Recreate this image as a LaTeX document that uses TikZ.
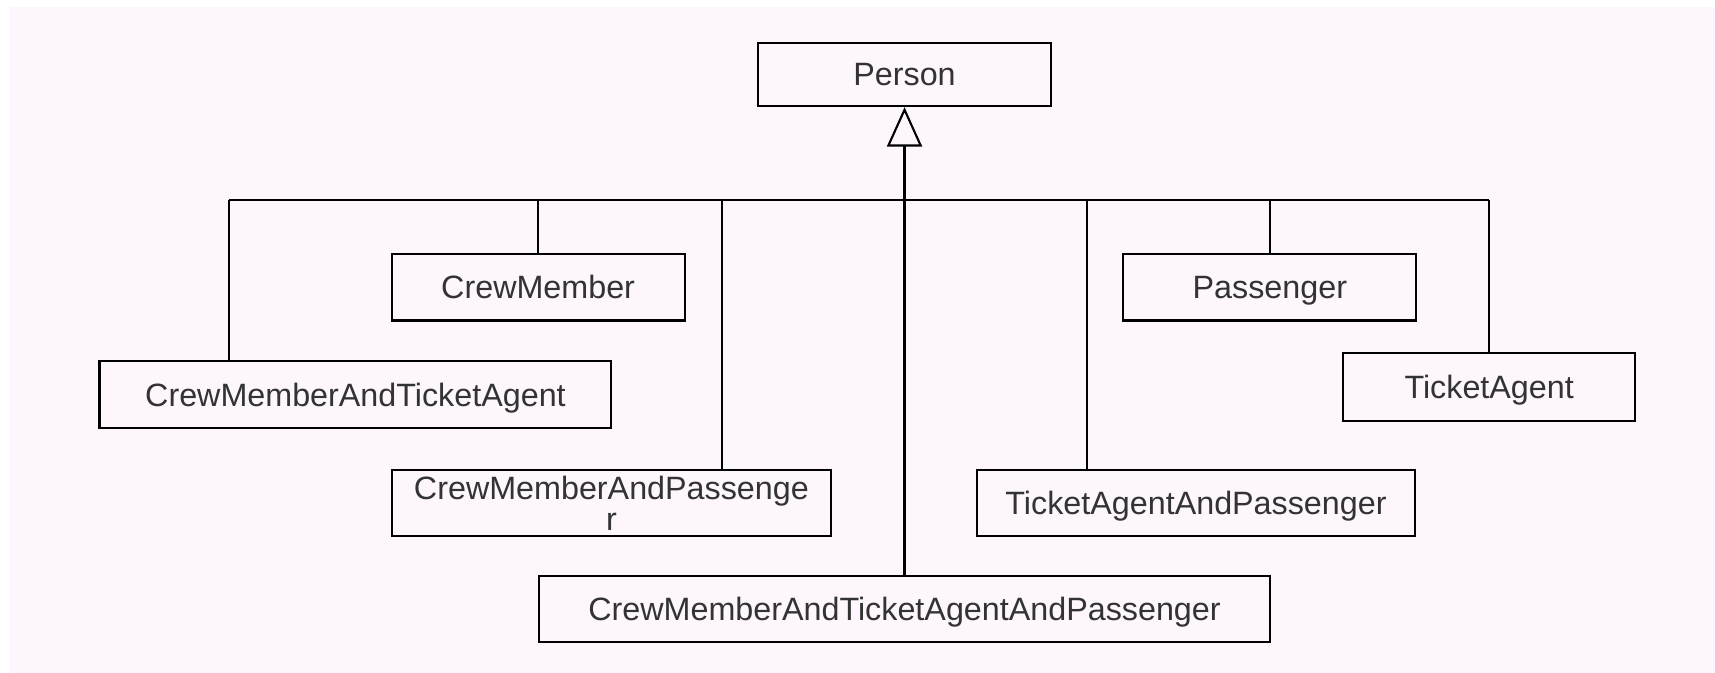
\documentclass[tikz,border=0pt]{standalone}
\usepackage{fontspec}
\setmainfont{Liberation Sans}
\usetikzlibrary{arrows.meta}
\definecolor{canvas}{RGB}{253,247,253}

\begin{document}
\begin{tikzpicture}[x=0.2mm, y=-0.2mm, line width=1.1pt]

    \useasboundingbox (0,0) rectangle (1568,615);
    \fill[canvas] (9,6) rectangle (1568,615);

    \begin{scope}[every node/.style={draw,rectangle,inner sep=0pt,align=center,text=black!80,text depth=0pt,
                  font=\fontsize{16.8}{16}\selectfont,minimum height=12.2mm}]
        \node[minimum width=53.6mm, minimum height=11.6mm] (1) at (827,68) {Person};
        \node[minimum width=53.6mm] (2) at (492,262.5) {CrewMember};
        \node[minimum width=53.6mm] (3) at (1161,262.5) {Passenger};
        \node[minimum width=93.6mm] (4) at (325,360.5) {CrewMemberAndTicketAgent};
        \node[minimum width=53.4mm, minimum height=12.4mm] (5) at (1361.5,354) {TicketAgent};
        \node[minimum width=80.4mm, minimum height=12mm] (6) at (559,460) {CrewMemberAndPassenge\\r};
        \node[minimum width=80.2mm, minimum height=12mm] (7) at (1093.5,460) {TicketAgentAndPassenger};
        \node[minimum width=133.8mm, minimum height=12mm] (8) at (827,557) {CrewMemberAndTicketAgentAndPassenger};
    \end{scope}

    % the bus under Person
    \coordinate (b1) at (209,183);
    \coordinate (b2) at (492,183);
    \coordinate (b3) at (660,183);
    \coordinate (b4) at (994,183);
    \coordinate (b5) at (1161,183);
    \coordinate (b6) at (1361,183);

    \draw (b1) -- (b6);
    \draw (b1) -- (4.north -| b1);
    \draw (b2) -- (2.north);
    \draw (b3) -- (6.north -| b3);
    \draw (b4) -- (7.north -| b4);
    \draw (b5) -- (3.north);
    \draw (b6) -- (5.north -| b6);

    \draw[-{Triangle[open,length=7.2mm,width=6.4mm]}] (8.north) -- (1.south);

\end{tikzpicture}
\end{document}
